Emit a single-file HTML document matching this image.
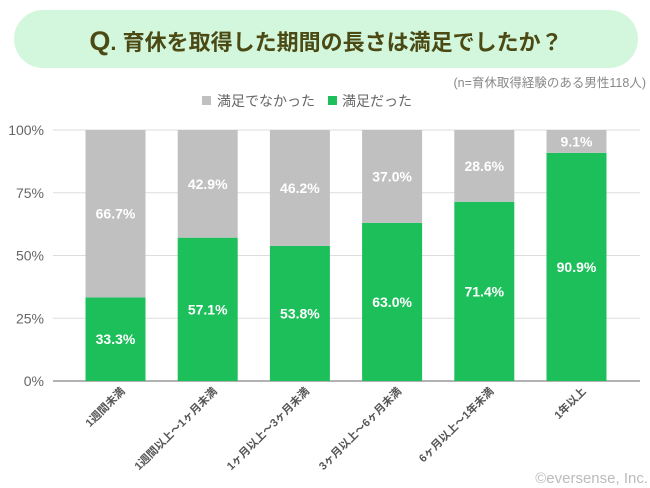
<!DOCTYPE html>
<html><head><meta charset="utf-8"><style>
body{margin:0;width:650px;height:488px;background:#fff;overflow:hidden;font-family:"Liberation Sans","Noto Sans CJK JP",sans-serif;}
</style></head><body>
<svg width="650" height="488" style="position:absolute;left:0;top:0">
<rect x="14" y="10" width="624" height="58" rx="29" fill="#d3f7dc"/>
<text x="326" y="50" text-anchor="middle" font-size="22" font-weight="bold" fill="#4b4a14"><tspan font-size="27">Q</tspan>. 育休を取得した期間の長さは満足でしたか？</text>
<text x="646" y="87" text-anchor="end" font-size="12.5" fill="#888">(n=育休取得経験のある男性118人)</text>
<g>
<rect x="202" y="96" width="9" height="9" fill="#c0c0c0"/>
<text x="217" y="106" font-size="14" fill="#666">満足でなかった</text>
<rect x="328" y="96" width="9" height="9" fill="#1dbf5a"/>
<text x="342" y="106" font-size="14" fill="#666">満足だった</text>
</g>
<g id="plot"></g>
<text x="648" y="483" text-anchor="end" font-size="15" fill="#bbb">©eversense, Inc.</text>
</svg>
<script>
const categories=["1週間未満","1週間以上～1ヶ月未満","1ヶ月以上～3ヶ月未満","3ヶ月以上～6ヶ月未満","6ヶ月以上～1年未満","1年以上"];
const satisfied=[33.3,57.1,53.8,63.0,71.4,90.9];
const unsatisfied=[66.7,42.9,46.2,37.0,28.6,9.1];
const yTicks=[0,25,50,75,100];
const tickLabels=["0%","25%","50%","75%","100%"];
const NS="http://www.w3.org/2000/svg";
const g=document.getElementById('plot');
const x0=53,x1=640,yTop=130,yBot=381,band=92.2,bw=60,firstC=115.5;
const y=v=>yBot-(v/100)*(yBot-yTop);
const xc=i=>firstC+i*band;
function mk(t,a){const e=document.createElementNS(NS,t);for(const k in a)e.setAttribute(k,a[k]);g.appendChild(e);return e;}
yTicks.forEach((v,i)=>{
 const l=mk('line',{x1:x0,x2:x1,y1:y(v),y2:y(v),stroke:v===0?'#999':'#ddd','stroke-width':v===0?1.5:1});
 
 
 const t=mk('text',{x:44,y:y(v)+5,'text-anchor':'end','font-size':14,fill:'#666'});
 t.textContent=tickLabels[i];
 
 
});
categories.forEach((c,i)=>{
 const s=satisfied[i],u=unsatisfied[i];
 const gr=mk('rect',{x:xc(i)-bw/2,y:y(s),width:bw,height:yBot-y(s),fill:'#1dbf5a'});
 
 
 const gy=mk('rect',{x:xc(i)-bw/2,y:y(s+u),width:bw,height:y(s)-y(s+u),fill:'#c0c0c0'});
 
 
 const t1=mk('text',{x:xc(i),y:(y(0)+y(s))/2+5,'text-anchor':'middle','font-size':14,'font-weight':'bold',fill:'#fff'});
 t1.textContent=s.toFixed(1)+'%';
 
 
 const t2=mk('text',{x:xc(i),y:(y(s)+y(s+u))/2+5,'text-anchor':'middle','font-size':14,'font-weight':'bold',fill:'#fff'});
 t2.textContent=u.toFixed(1)+'%';
 
 
 const cx=xc(i)+10,cy=392;
 const xl=mk('text',{x:cx,y:cy,'text-anchor':'end','font-size':11,'font-weight':'bold',fill:'#555',transform:`rotate(-45 ${cx} ${cy})`});
 xl.textContent=c;
 
 
});
</script>
</body></html>
